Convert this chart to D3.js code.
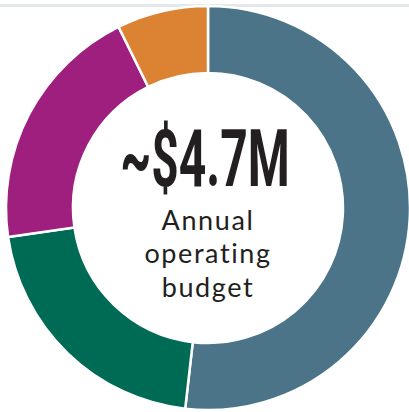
<!DOCTYPE html>
<html><head><meta charset="utf-8">
<script src="https://cdn.jsdelivr.net/npm/d3@7"></script>
<style>html,body{margin:0;padding:0;background:#fff;overflow:hidden}</style>
</head><body>
<svg id="c" width="409" height="412"></svg>
<script>
const categories = ["Blue", "Green", "Purple", "Orange"];
const values = [51.8, 20.9, 20.0, 7.3];
const colors = ["#4b7488", "#006b55", "#9e1f7e", "#dc8233"];
const headline = "~$4.7M";
const subLines = ["Annual", "operating", "budget"];

const svg = d3.select("#c");
svg.append("rect").attr("x",0).attr("y",4).attr("width",409).attr("height",3).attr("fill","#e4e8ec");

const cx = 208, cy = 208, R = 202, r = 135;
const g = svg.append("g").attr("transform", `translate(${cx},${cy})`);
const pie = d3.pie().sort(null).value(d => d.v);
const arc = d3.arc().innerRadius(r).outerRadius(R);
const data = categories.map((c,i)=>({c, v: values[i]}));
g.selectAll("path").data(pie(data)).join("path")
  .attr("d", arc)
  .attr("fill", (d,i)=>colors[i])
  .attr("stroke", "#fff").attr("stroke-width", 2.5);

g.append("text").text(headline)
  .attr("text-anchor","middle")
  .attr("transform","translate(-3,-22) scale(0.6,1)")
  .attr("font-family","Roboto, 'DejaVu Sans'")
  .attr("font-weight","bold")
  .attr("font-size",80)
  .attr("fill","#231f20");

const ys = [22, 55, 89];
subLines.forEach((t,i)=>{
  g.append("text").text(t)
    .attr("text-anchor","middle")
    .attr("x",0).attr("y",ys[i])
    .attr("font-family","Lato, sans-serif")
    .attr("font-size",27)
    .attr("letter-spacing",1.6)
    .attr("fill","#231f20");
});
</script>
</body></html>
